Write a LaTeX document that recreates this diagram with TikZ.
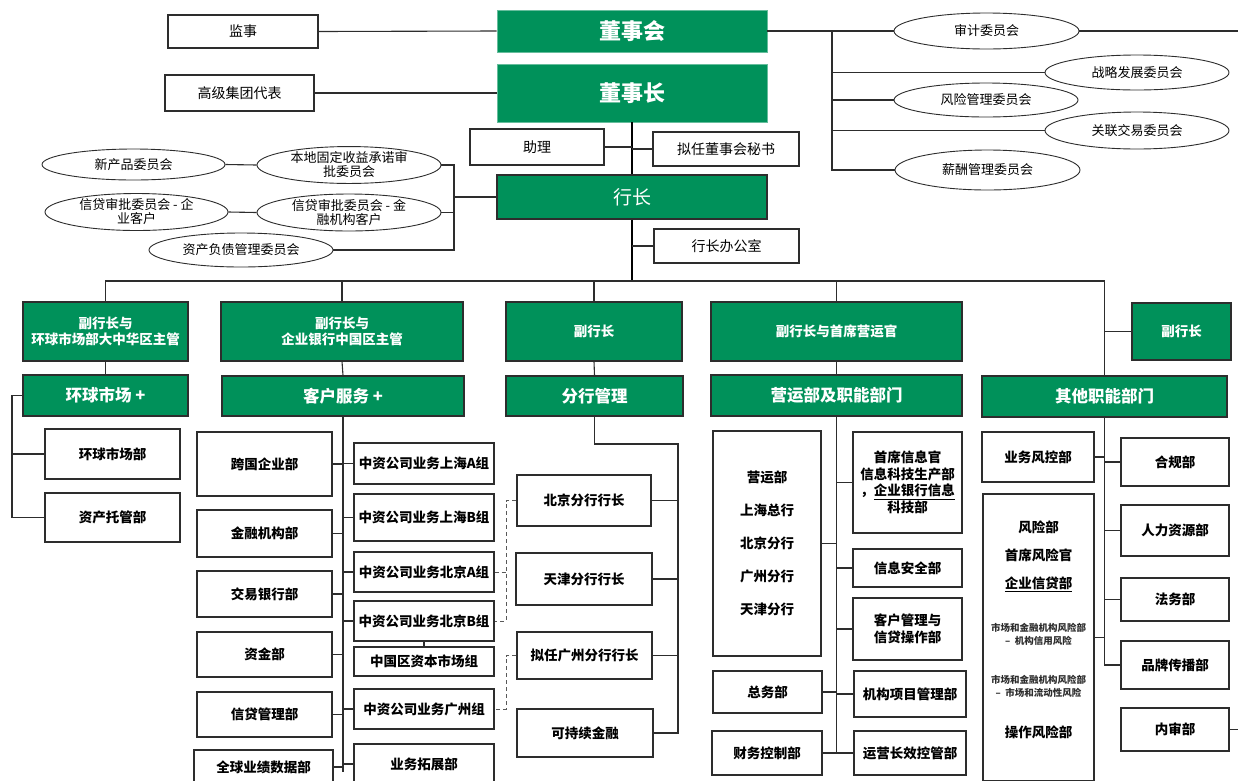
\documentclass[tikz,border=0pt]{standalone}
\usepackage{fontspec}
\setmainfont{Noto Sans CJK SC}
\usetikzlibrary{shapes.geometric}
\definecolor{bkgreen}{RGB}{0,145,90}
\definecolor{ln}{RGB}{45,45,45}
\newcommand{\B}[8][]{\node[#2,#1,inner sep=0pt,minimum width={#6pt-#4pt},minimum height={#7pt-#5pt}] (#3) at ({(#4+#6)/2},{(#5+#7)/2}) {#8};}
\newcommand{\E}[6]{\node[ell,minimum width={#4pt-#2pt},minimum height={#5pt-#3pt}] (#1) at ({(#2+#4)/2},{(#3+#5)/2}) {#6};}
\begin{document}
\begin{tikzpicture}[x=1pt,y=-1pt,
  wbox/.style={draw=ln,line width=1.1pt,fill=white,align=center,font=\fontsize{14}{16}\selectfont},
  dbox/.style={wbox,font=\bfseries\fontsize{13.5}{16.5}\selectfont},
  gbox/.style={draw=ln,line width=1.1pt,fill=bkgreen,text=white,align=center,font=\bfseries\fontsize{13.5}{16}\selectfont},
  g2box/.style={gbox,font=\bfseries\fontsize{16.5}{19}\selectfont},
  topg/.style={draw=bkgreen!60,line width=0.8pt,fill=bkgreen,text=white,align=center,font=\bfseries\fontsize{22}{25}\selectfont},
  ell/.style={ellipse,draw=ln,line width=0.9pt,fill=white,inner sep=0pt,align=center,font=\fontsize{13}{14}\selectfont},
  conn/.style={draw=ln,line width=1.1pt},
  trunk/.style={draw=black,line width=2pt},
  dshline/.style={draw=gray!70!black,line width=1pt,dash pattern=on 4pt off 3pt},
  smalltxt/.style={inner sep=0pt,align=center,text=ln,font=\bfseries\fontsize{9.5}{13}\selectfont},
  risktxt/.style={inner sep=0pt,align=center,font=\bfseries\fontsize{13.5}{16}\selectfont}
]
\useasboundingbox (0,0) rectangle (1238,780);

% ---- top level
\B{wbox}{js}{168}{15}{318}{48}{监事}
\B{wbox}{gjjt}{165}{75}{314}{111}{高级集团代表}
\B{topg}{dshui}{497}{10}{767}{52}{董事会}
\B{topg}{dsz}{497}{64}{767}{122}{董事长}
\B{wbox}{zl}{470}{129}{604}{165}{助理}
\B{wbox}{mishu}{653}{132}{799}{166}{拟任董事会秘书}
\B[draw=ln,line width=1.1pt,font=\fontsize{19}{22}\selectfont]{topg}{hz}{497}{175}{767}{219}{行长}
\B{wbox}{hzb}{654}{229}{799}{263}{行长办公室}

% ---- board committees
\E{sj}{894}{13}{1079}{49}{审计委员会}
\E{zlfz}{1045}{55}{1229}{90}{战略发展委员会}
\E{fxgl}{894}{83}{1078}{117}{风险管理委员会}
\E{gljy}{1045}{112}{1229}{149}{关联交易委员会}
\E{xcgl}{895}{150}{1080}{190}{薪酬管理委员会}

% ---- management committees
\E{xcp}{42}{149}{225}{180}{新产品委员会}
\E{bdgd}{257}{147}{441}{183}{本地固定收益承诺审\\批委员会}
\E{xd1}{45}{194}{228}{230}{信贷审批委员会 - 企\\业客户}
\E{xd2}{257}{195}{441}{230}{信贷审批委员会 - 金\\融机构客户}
\E{zcfz}{149}{233}{333}{267}{资产负债管理委员会}

% ---- top connectors
\coordinate (redge) at (1238,31);
\coordinate (cv) at (832,31);
\coordinate (lvt) at (454,165);
\coordinate (bus) at (632,281);
\draw[conn] (js.east) -- (dshui.west);
\draw[conn] (gjjt.east) -- (dsz.west);
\draw[conn] (dshui.east) -- (sj.west);
\draw[conn] (sj.east) -- (redge);
\draw[conn] (cv) -- (cv |- xcgl.west) -- (xcgl.west);
\draw[conn] (cv |- zlfz.west) -- (zlfz.west);
\draw[conn] (cv |- fxgl.west) -- (fxgl.west);
\draw[conn] (cv |- gljy.west) -- (gljy.west);
\draw[trunk] (dsz.south) -- (hz.north);
\draw[conn] (zl.east) -- (zl.east -| dsz.south);
\draw[conn] (mishu.west) -- (mishu.west -| dsz.south);
\draw[trunk] (hz.south) -- (bus);
\draw[conn] (hzb.west) -- (hzb.west -| hz.south);
\draw[conn] (bdgd.east) -- (lvt) -- (lvt |- zcfz.east) -- (zcfz.east);
\draw[conn] (xd2.east) -- (xd2.east -| lvt);
\draw[conn] (hz.west) -- (hz.west -| lvt);
\draw[conn] (xcp.east) -- (bdgd.west);
\draw[conn] (xd1.east) -- (xd2.west);

% ---- vice presidents
\B{gbox}{v1}{23}{302}{188}{361}{副行长与\\环球市场部大中华区主管}
\B{gbox}{v2}{221}{302}{463}{361}{副行长与\\企业银行中国区主管}
\B{gbox}{v3}{506}{302}{682}{361}{副行长}
\B{gbox}{v4}{711}{302}{962}{361}{副行长与首席营运官}
\B{gbox}{v5}{1132}{303}{1231}{360}{副行长}
\B{g2box}{d1}{23}{375}{188}{416}{环球市场 +}
\B{g2box}{d2}{222}{376}{464}{416}{客户服务 +}
\B{g2box}{d3}{506}{376}{683}{416}{分行管理}
\B{g2box}{d4}{711}{375}{962}{416}{营运部及职能部门}
\B{g2box}{d5}{982}{376}{1227}{417}{其他职能部门}

\draw[conn] (v1.north) -- (v1.north |- bus) -- (d5.north |- bus) -- (d5.north);
\draw[conn] (v2.north) -- (v2.north |- bus);
\draw[conn] (v3.north) -- (v3.north |- bus);
\draw[conn] (v4.north) -- (v4.north |- bus);
\draw[conn] (v5.west) -- (v5.west -| d5.north);
\draw[conn] (v1.south) -- (d1.north);
\draw[conn] (v2.south) -- (d2.north);
\draw[conn] (v3.south) -- (d3.north);
\draw[conn] (v4.south) -- (d4.north);

% ---- global markets
\B{dbox}{gm1}{45}{429}{180}{479}{环球市场部}
\B{dbox}{gm2}{45}{493}{180}{542}{资产托管部}
\coordinate (gmv) at (12,395);
\draw[conn] (d1.west) -- (d1.west -| gmv) -- (gmv |- gm2.west) -- (gm2.west);
\draw[conn] (gm1.west) -- (gm1.west -| gmv);

% ---- client services
\B{dbox}{k1}{197}{432}{332}{496}{跨国企业部}
\B{dbox}{k2}{197}{510}{332}{557}{金融机构部}
\B{dbox}{k3}{197}{571}{332}{617}{交易银行部}
\B{dbox}{k4}{197}{632}{332}{677}{资金部}
\B{dbox}{k5}{197}{692}{332}{737}{信贷管理部}
\B{dbox}{k6}{194}{750}{333}{784}{全球业绩数据部}
\B{dbox}{c1}{354}{443}{494}{484}{中资公司业务上海A组}
\B{dbox}{c2}{354}{494}{494}{541}{中资公司业务上海B组}
\B{dbox}{c3}{354}{552}{494}{592}{中资公司业务北京A组}
\B{dbox}{c4}{354}{601}{494}{641}{中资公司业务北京B组}
\B{dbox}{c5}{354}{647}{494}{676}{中国区资本市场组}
\B{dbox}{c6}{354}{689}{494}{729}{中资公司业务广州组}
\B{dbox}{c7}{354}{744}{494}{784}{业务拓展部}
\coordinate (kfb) at (343,772);
\draw[conn] (d2.south) -- (d2.south |- kfb);
\foreach \n in {k1,k2,k3,k4,k5,k6}{\draw[conn] (\n.east) -- (\n.east -| d2.south);}
\foreach \n in {c1,c2,c3,c4,c6,c7}{\draw[conn] (\n.west) -- (\n.west -| d2.south);}
\draw[conn] (c4.south) -- (c5.north);

% ---- branch management
\B{dbox}{b1}{517}{475}{651}{526}{北京分行行长}
\B{dbox}{b2}{516}{553}{652}{605}{天津分行行长}
\B{dbox}{b3}{517}{632}{652}{679}{拟任广州分行行长}
\B{dbox}{b4}{517}{709}{653}{757}{可持续金融}
\coordinate (bt) at (678,444);
\draw[conn] (d3.south) -- (d3.south |- bt) -- (bt) -- (bt |- b4.east) -- (b4.east);
\foreach \n in {b1,b2,b3}{\draw[conn] (\n.east) -- (\n.east -| bt);}
\coordinate (dv) at (506,500);
\draw[dshline] (b1.west) -- (b1.west -| dv) -- (dv |- c4.east) -- (c4.east);
\draw[dshline] (c3.east) -- (c3.east -| dv);
\draw[dshline] (b3.west) -- (b3.west -| dv) -- (dv |- c6.east) -- (c6.east);

% ---- operations
\B[font=\bfseries\fontsize{13.5}{33}\selectfont]{dbox}{o1}{713}{431}{821}{656}{营运部\\上海总行\\北京分行\\广州分行\\天津分行}
\B{dbox}{o2}{713}{671}{822}{713}{总务部}
\B{dbox}{o3}{712}{731}{822}{775}{财务控制部}
\B{dbox}{o4}{853}{432}{962}{533}{首席信息官\\信息科技生产部\\，\underline{企业银行信息}\\科技部}
\B{dbox}{o5}{853}{549}{962}{587}{信息安全部}
\B{dbox}{o6}{853}{598}{962}{660}{客户管理与\\信贷操作部}
\B{dbox}{o7}{854}{671}{966}{717}{机构项目管理部}
\B{dbox}{o8}{854}{731}{966}{775}{运营长效控管部}
\draw[conn] (d4.south) -- (d4.south |- o3.east);
\foreach \n in {o1,o2,o3}{\draw[conn] (\n.east) -- (\n.east -| d4.south);}
\foreach \n in {o4,o5,o6,o7,o8}{\draw[conn] (\n.west) -- (\n.west -| d4.south);}

% ---- other functions
\B{dbox}{r1}{982}{432}{1094}{482}{业务风控部}
\B{dbox}{r2}{983}{494}{1094}{781}{}
\node[risktxt] (ra) at (1038.5,527) {风险部};
\node[risktxt] (rb) at (1038.5,555) {首席风险官};
\node[risktxt] (rc) at (1038.5,584) {\underline{企业信贷部}};
\node[smalltxt] (rd) at (1038.5,634) {市场和金融机构风险部\\–\ \ 机构信用风险};
\node[smalltxt] (re) at (1038.5,686) {市场和金融机构风险部\\–\ \ 市场和流动性风险};
\node[risktxt] (rf) at (1038.5,732) {操作风险部};
\B{dbox}{q1}{1121}{438}{1229}{486}{合规部}
\B{dbox}{q2}{1121}{505}{1229}{556}{人力资源部}
\B{dbox}{q3}{1121}{578}{1229}{621}{法务部}
\B{dbox}{q4}{1121}{641}{1229}{689}{品牌传播部}
\B{dbox}{q5}{1121}{708}{1229}{751}{内审部}
\coordinate (redge2) at (1238,729.5);
\draw[conn] (d5.south) -- (d5.south |- q4.west) -- (q4.west);
\foreach \n in {r1,r2}{\draw[conn] (\n.east) -- (\n.east -| d5.south);}
\foreach \n in {q1,q2,q3}{\draw[conn] (\n.west) -- (\n.west -| d5.south);}
\draw[conn] (q5.east) -- (redge2);
\end{tikzpicture}
\end{document}
